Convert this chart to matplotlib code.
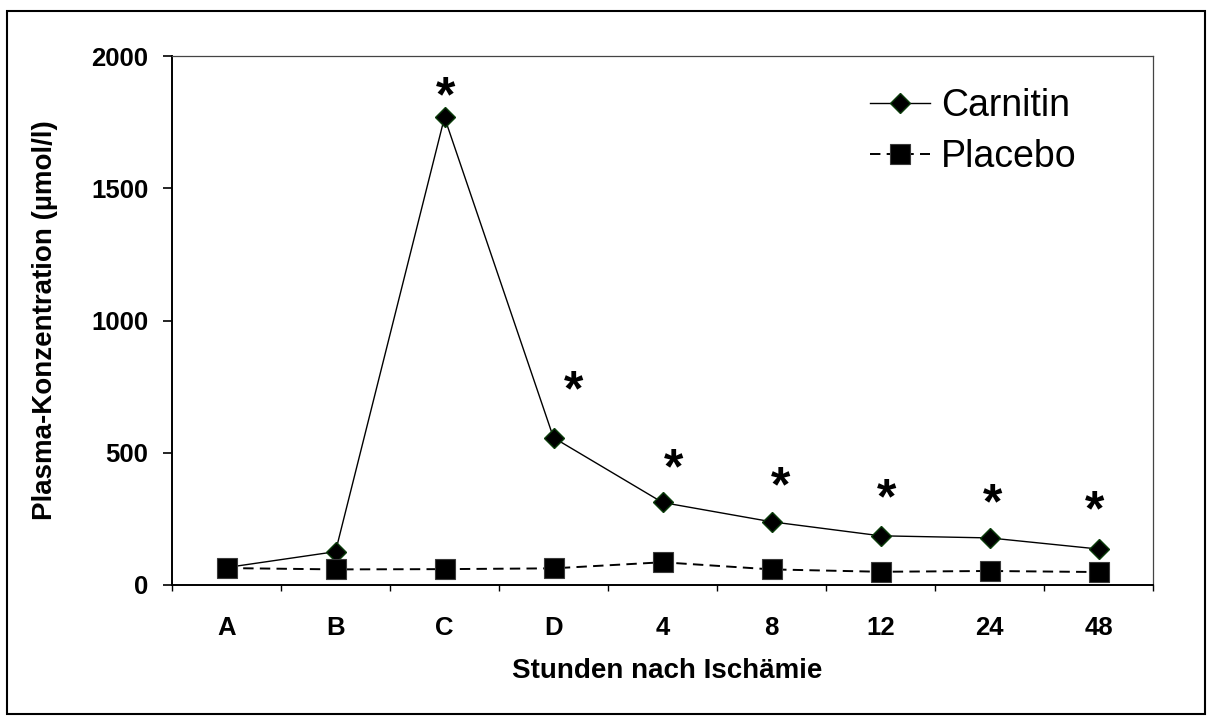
import numpy as np
import matplotlib
matplotlib.use("Agg")
import matplotlib.pyplot as plt
from matplotlib.patches import Rectangle

plt.rcParams['font.family'] = ['Liberation Sans', 'DejaVu Sans']
plt.rcParams['lines.scale_dashes'] = False

# data
categories = ["A", "B", "C", "D", "4", "8", "12", "24", "48"]
carnitin = [66, 126, 1768, 557, 312, 239, 186, 178, 136]
placebo = [64, 59, 60, 63, 86, 59, 50, 53, 49]
# significance stars: category index, x shift, height
star_idx = [2, 3, 4, 5, 6, 7, 8]
star_dx = [0.01, 0.18, 0.10, 0.08, 0.06, 0.03, -0.04]
star_y = [1879, 768, 473, 405, 359, 340, 314]

fig = plt.figure(figsize=(12.07, 7.22), dpi=100)
ax = fig.add_axes([172 / 1207, 1 - 585 / 722, 981 / 1207, 529 / 722])

x = np.arange(len(categories))
ax.plot(x, carnitin, color="black", lw=1.0, marker="D", ms=10.5,
        mfc="black", mec="#0b3d0b", mew=1.0, label="Carnitin", zorder=3)
ax.plot(x, placebo, color="black", lw=1.4, dashes=(7.5, 4.5), marker="s", ms=15,
        mfc="black", mec="#3a3a3a", mew=0.8, label="Placebo", zorder=4)

# the glyph sits high in its text box, so nudge it down a little
for i, dx, y in zip(star_idx, star_dx, star_y):
    ax.annotate("*", (i + dx, y), xytext=(0, -7.5), textcoords="offset points",
                ha="center", va="center", fontsize=36, fontweight="bold",
                color="black")

ax.set_xlim(-0.5, len(categories) - 0.5)
ax.set_ylim(0, 2000)
ax.set_yticks([0, 500, 1000, 1500, 2000])
ax.tick_params(axis="y", direction="out", length=6.5, width=1.2, pad=10.5,
               labelsize=18.5)
for t in ax.get_yticklabels():
    t.set_fontweight("bold")

# ticks between categories, labels centred on categories
ax.set_xticks(np.arange(-0.5, len(categories), 1.0))
ax.set_xticklabels([])
ax.set_xticks(x, minor=True)
ax.set_xticklabels(categories, minor=True, fontweight="bold", fontsize=18.5)
ax.tick_params(axis="x", which="major", direction="out", length=4.3, width=1.0)
ax.tick_params(axis="x", which="minor", length=0, pad=22)

for side in ["left", "bottom"]:
    ax.spines[side].set_linewidth(1.4)
    ax.spines[side].set_color("black")
for side in ["top", "right"]:
    ax.spines[side].set_linewidth(0.9)
    ax.spines[side].set_color("#444444")

ax.set_xlabel("Stunden nach Ischämie", fontsize=20, fontweight="bold")
ax.xaxis.set_label_coords(0.505, -0.138)
ax.set_ylabel("Plasma-Konzentration (µmol/l)", fontsize=20, fontweight="bold")
ax.yaxis.set_label_coords(-0.116, 0.5)

leg = ax.legend(loc="upper left", bbox_to_anchor=(870 / 1207, 1 - 88 / 722),
                bbox_transform=fig.transFigure, frameon=False, fontsize=27,
                handlelength=1.6, handletextpad=0.3, labelspacing=0.4,
                borderpad=0, borderaxespad=0)

fig.patches.append(Rectangle((7 / 1207, 1 - 714 / 722), 1198 / 1207, 703 / 722,
                             transform=fig.transFigure, fill=False,
                             edgecolor="black", lw=1.5))

fig.savefig("out.png", dpi=100)
